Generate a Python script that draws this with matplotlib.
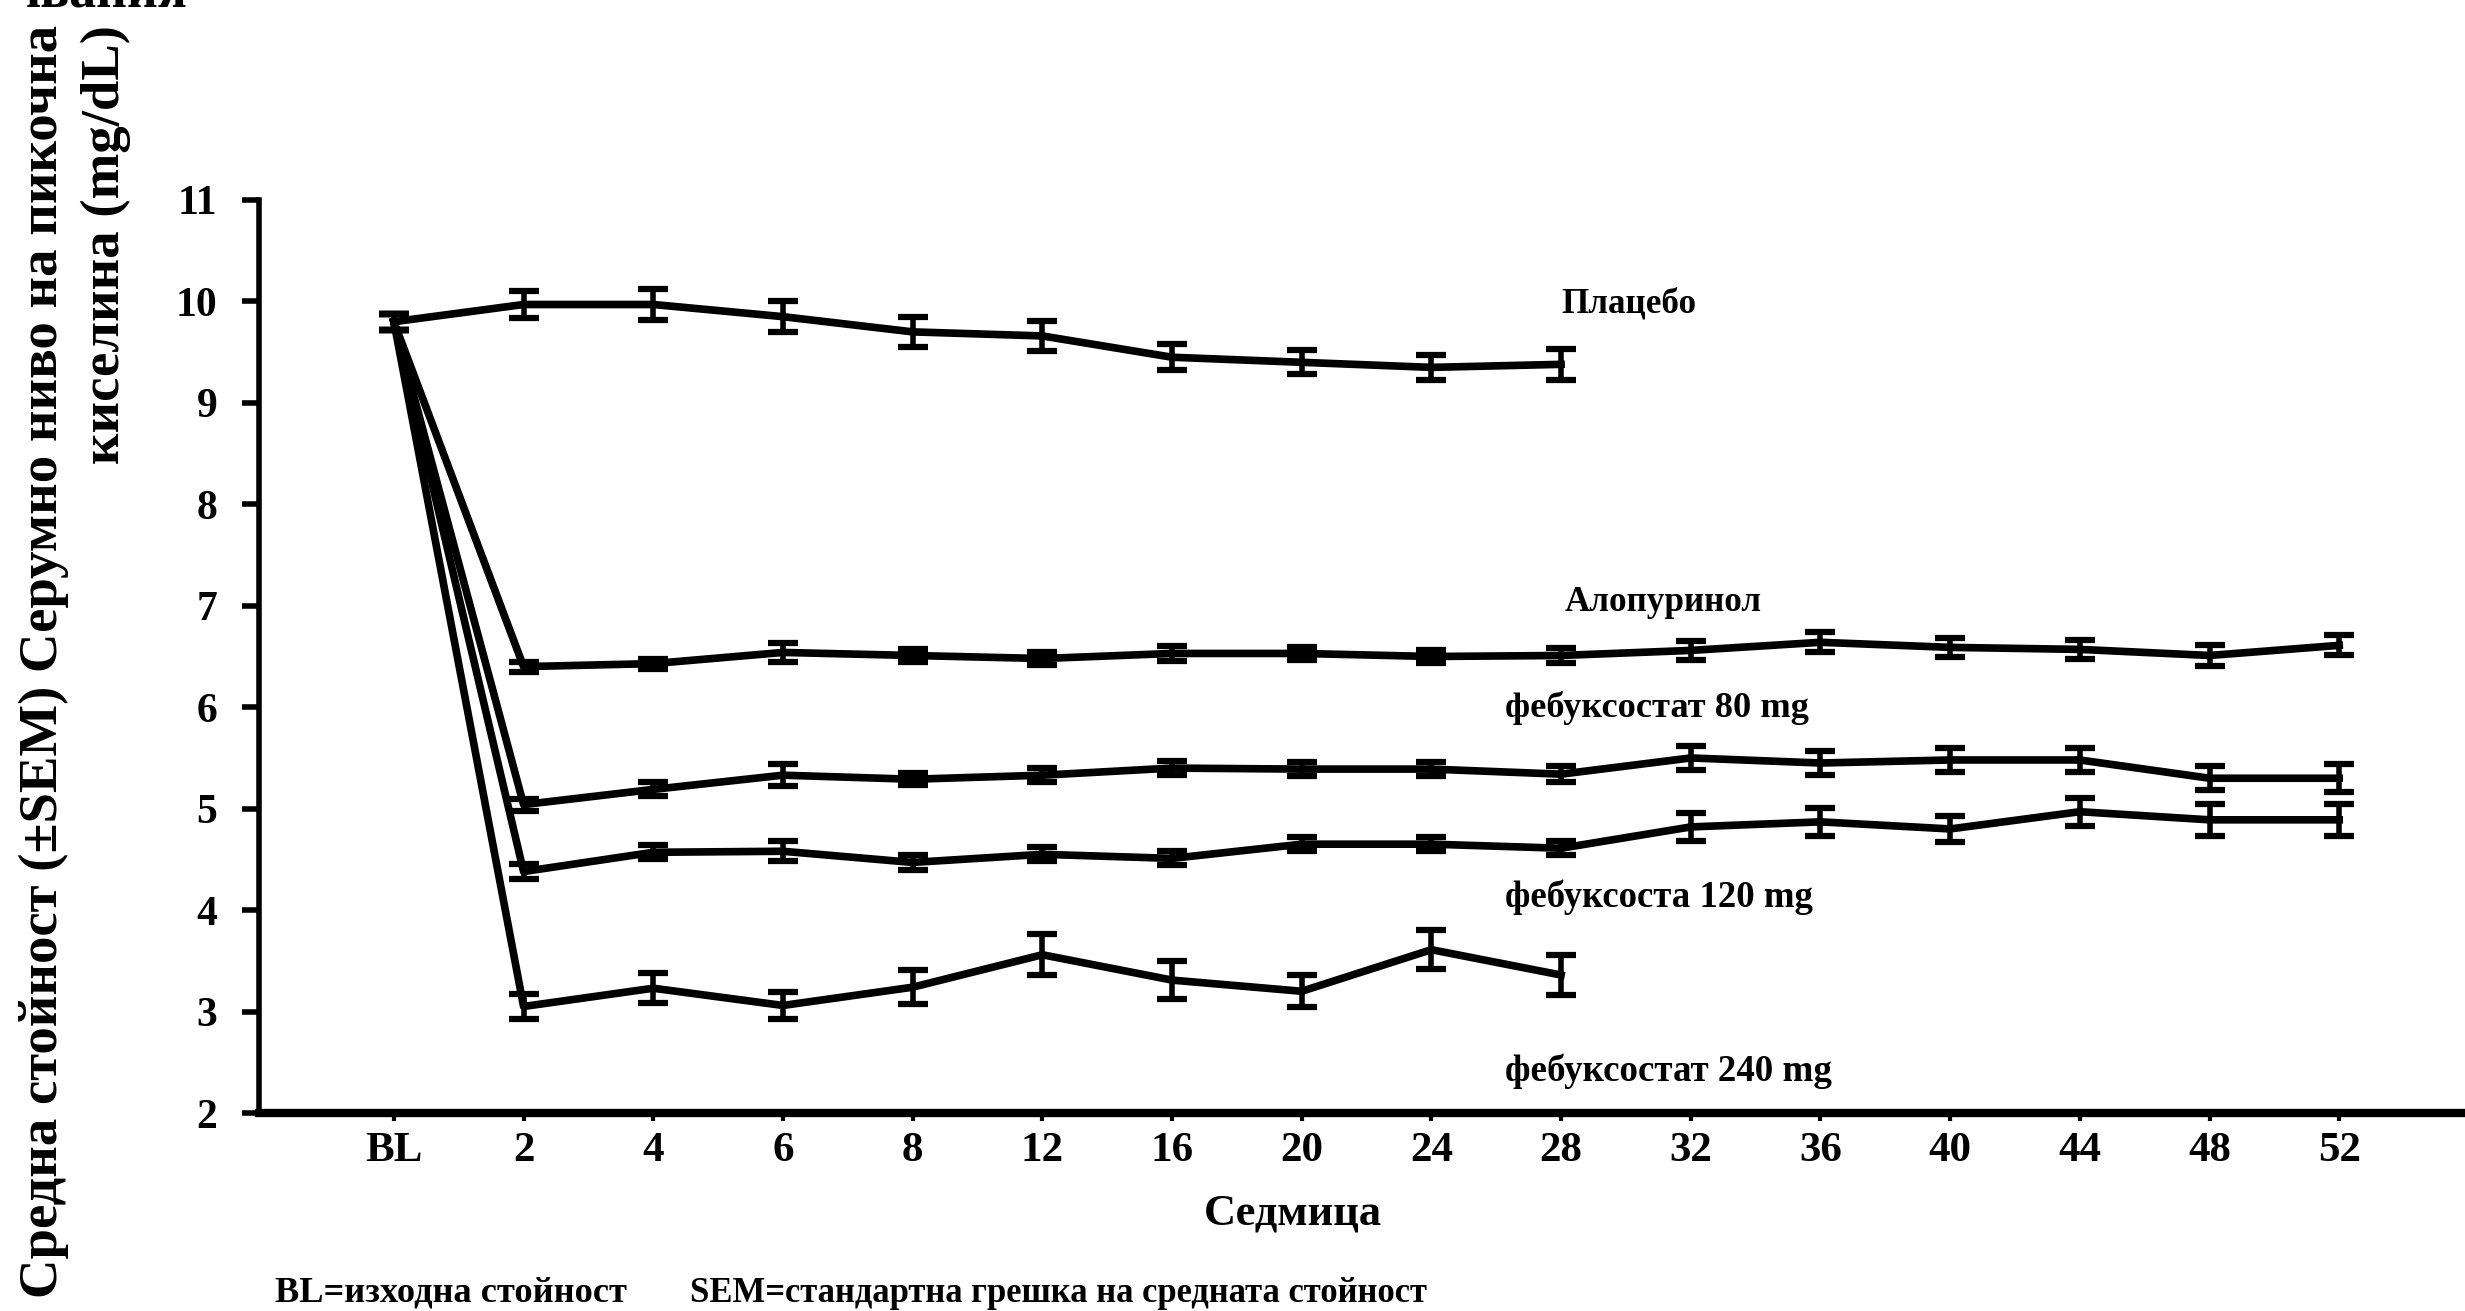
import matplotlib
matplotlib.use("Agg")
import matplotlib.pyplot as plt

# ---------------- data ----------------
weeks = ["BL", "2", "4", "6", "8", "12", "16", "20", "24", "28",
         "32", "36", "40", "44", "48", "52"]

placebo = [9.80, 9.97, 9.97, 9.85, 9.70, 9.66, 9.45, 9.40, 9.35, 9.38]
placebo_sem = [0.08, 0.13, 0.15, 0.15, 0.15, 0.15, 0.13, 0.12, 0.12, 0.15]

allopurinol = [9.80, 6.40, 6.43, 6.54, 6.51, 6.48, 6.53, 6.53, 6.50, 6.51,
               6.56, 6.64, 6.59, 6.57, 6.51, 6.61]
allopurinol_sem = [0.08, 0.05, 0.05, 0.09, 0.06, 0.06, 0.07, 0.06, 0.06, 0.07,
                   0.09, 0.10, 0.09, 0.09, 0.10, 0.10]

feb80 = [9.80, 5.04, 5.19, 5.33, 5.29, 5.33, 5.40, 5.39, 5.39, 5.34,
         5.50, 5.45, 5.48, 5.48, 5.30, 5.30]
feb80_sem = [0.08, 0.06, 0.07, 0.11, 0.06, 0.07, 0.07, 0.07, 0.07, 0.08,
             0.12, 0.12, 0.12, 0.12, 0.12, 0.14]

feb120 = [9.80, 4.38, 4.57, 4.58, 4.47, 4.55, 4.51, 4.65, 4.65, 4.61,
          4.82, 4.87, 4.80, 4.97, 4.89, 4.89]
feb120_sem = [0.08, 0.07, 0.07, 0.10, 0.07, 0.07, 0.07, 0.07, 0.07, 0.07,
              0.14, 0.14, 0.13, 0.14, 0.16, 0.16]

feb240 = [9.80, 3.05, 3.23, 3.06, 3.24, 3.56, 3.31, 3.20, 3.61, 3.36]
feb240_sem = [0.08, 0.12, 0.15, 0.13, 0.17, 0.20, 0.19, 0.16, 0.19, 0.20]

series_labels = ["Плацебо", "Алопуринол", "фебуксостат 80 mg",
                 "фебуксоста 120 mg", "фебуксостат 240 mg"]

# ---------------- figure ----------------
W, H = 2465, 1311
plt.rcParams["font.family"] = ["Liberation Serif", "DejaVu Serif"]
plt.rcParams["font.weight"] = "bold"

fig = plt.figure(figsize=(W / 100, H / 100), dpi=100)
fig.patch.set_facecolor("white")

ax = fig.add_axes([259 / W, 1 - 1113 / H, 1 - 259 / W, (1113 - 200) / H])
ax.set_facecolor("white")

pos = list(range(len(weeks)))
for vals, sem in [(placebo, placebo_sem), (allopurinol, allopurinol_sem),
                  (feb80, feb80_sem), (feb120, feb120_sem), (feb240, feb240_sem)]:
    n = len(vals)
    ax.errorbar(pos[:n], vals, yerr=sem, fmt="-", color="black", lw=5.5,
                elinewidth=4, capsize=11, capthick=4.5, clip_on=False)

ax.set_xlim(-1.04, 15.97)
ax.set_ylim(2, 11)
ax.set_xticks(pos)
ax.set_xticklabels(weeks)
ax.set_yticks(range(2, 12))
ax.tick_params(axis="x", length=6, width=3, pad=8, labelsize=31)
ax.tick_params(axis="y", length=12, width=4, pad=18, labelsize=30)
for lab in ax.get_xticklabels() + ax.get_yticklabels():
    lab.set_fontweight("bold")

for s in ["top", "right"]:
    ax.spines[s].set_visible(False)
ax.spines["left"].set_linewidth(4)
ax.spines["bottom"].set_linewidth(6)

renderer = fig.canvas.get_renderer()


def put(x, y, s, target, ha="left", va="center", rot=0):
    t = fig.text(x / W, 1 - y / H, s, ha=ha, va=va, rotation=rot,
                 fontsize=20, fontweight="bold", color="black")
    bb = t.get_window_extent(renderer)
    cur = bb.height if rot else bb.width
    t.set_fontsize(20 * target / cur)
    return t


# series labels
put(1561, 304, series_labels[0], 135)
put(1565, 602, series_labels[1], 197)
put(1505, 708, series_labels[2], 303)
put(1505, 897, series_labels[3], 308)
put(1505, 1071, series_labels[4], 327)

# axis titles
put(1204, 1213, "Седмица", 179)
t1 = put(44, 25, "Средна стойност (±SEM) Серумно ниво на пикочна", 1272,
         ha="center", va="top", rot=90)
t2 = fig.text(106 / W, 1 - 25 / H, "киселина (mg/dL)", ha="center", va="top",
              rotation=90, fontsize=t1.get_fontsize(), fontweight="bold")

# footnotes
put(275, 1293, "BL=изходна стойност", 350)
put(690, 1293, "SEM=стандартна грешка на средната стойност", 738)

# heading text from the page above, cut off by the top edge as in the source
put(10, 7, "чвания", 177, va="baseline")

fig.savefig("out.png", dpi=100, facecolor="white")
